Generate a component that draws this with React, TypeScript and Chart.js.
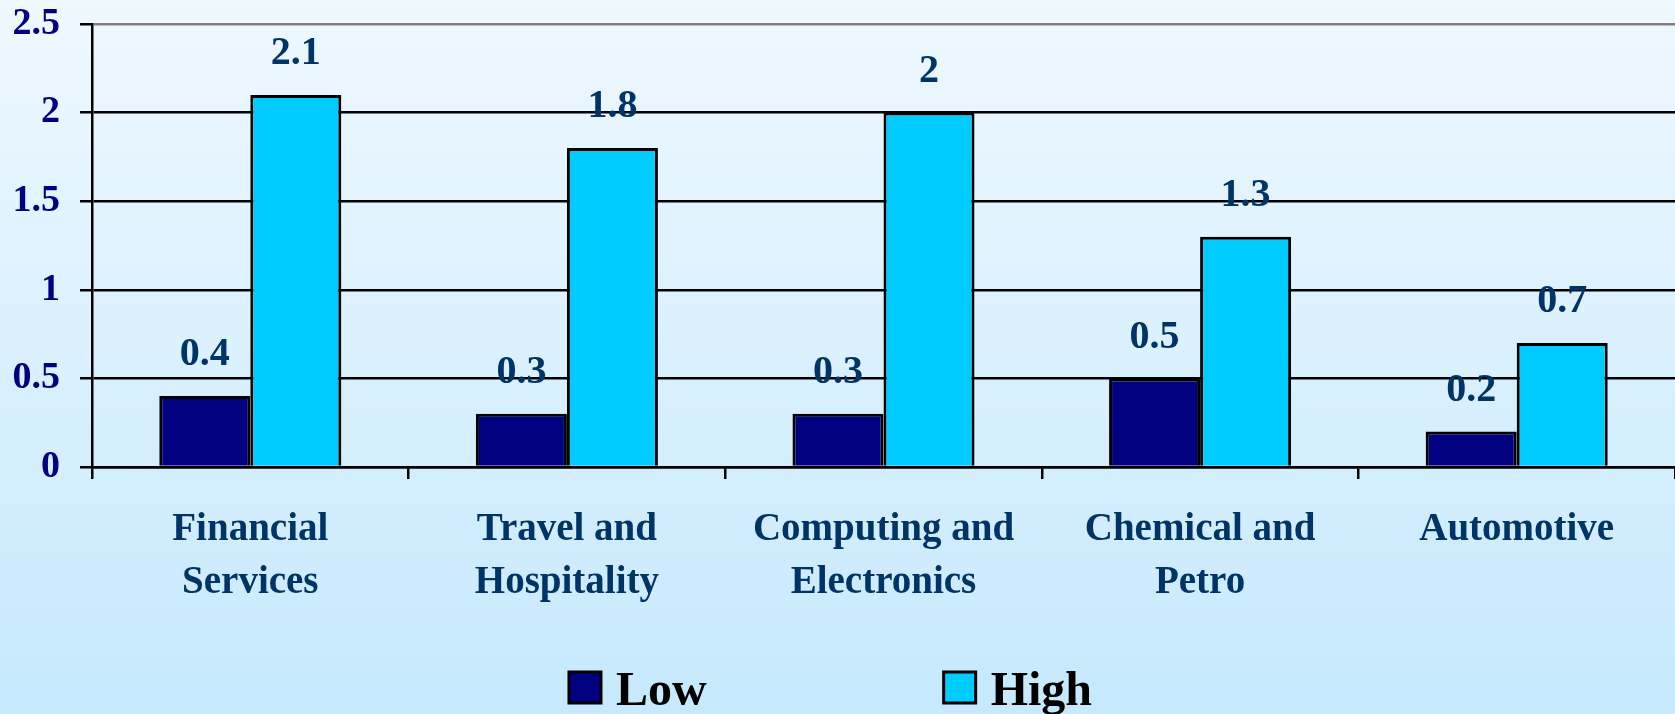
import React, { useEffect, useRef } from 'react';
import { Chart, registerables, Plugin } from 'chart.js';

Chart.register(...registerables);

const categories: string[][] = [
  ['Financial', 'Services'],
  ['Travel and', 'Hospitality'],
  ['Computing and', 'Electronics'],
  ['Chemical and', 'Petro'],
  ['Automotive'],
];
const lowValues = [0.4, 0.3, 0.3, 0.5, 0.2];
const highValues = [2.1, 1.8, 2.0, 1.3, 0.7];
const seriesNames = ['Low', 'High'];

const SERIF = '"Liberation Serif", "Times New Roman", serif';

const background: Plugin<'bar'> = {
  id: 'bgGradient',
  beforeDraw: (chart) => {
    const { ctx, width, height } = chart;
    const g = ctx.createLinearGradient(0, 0, 0, height);
    g.addColorStop(0, '#eef8ff');
    g.addColorStop(1, '#c6e9fd');
    ctx.save();
    ctx.fillStyle = g;
    ctx.fillRect(0, 0, width, height);
    ctx.restore();
  },
};

const valueLabels: Plugin<'bar'> = {
  id: 'valueLabels',
  afterDatasetsDraw: (chart) => {
    const { ctx } = chart;
    ctx.save();
    ctx.font = `bold 40px ${SERIF}`;
    ctx.fillStyle = '#003366';
    ctx.textAlign = 'center';
    ctx.textBaseline = 'middle';
    chart.data.datasets.forEach((ds, i) => {
      const meta = chart.getDatasetMeta(i);
      meta.data.forEach((bar: any, j) => {
        const v = ds.data[j] as number;
        ctx.fillText(String(v), bar.x, bar.y - 41);
      });
    });
    ctx.restore();
  },
};

const bottomLegend: Plugin<'bar'> = {
  id: 'bottomLegend',
  afterDraw: (chart) => {
    const { ctx, width } = chart;
    const box = 32;
    const textGap = 15;
    const itemGap = 237;
    ctx.save();
    ctx.font = `bold 48px ${SERIF}`;
    const items = chart.data.datasets.map((ds) => ({
      label: ds.label as string,
      color: ds.backgroundColor as string,
      w: box + textGap + ctx.measureText(ds.label as string).width,
    }));
    const total = items.reduce((s, it) => s + it.w, 0) + itemGap * (items.length - 1);
    let x = width / 2 - 7 - total / 2;
    items.forEach((it) => {
      ctx.fillStyle = it.color;
      ctx.fillRect(x, 672, box, 31);
      ctx.lineWidth = 3;
      ctx.strokeStyle = '#000';
      ctx.strokeRect(x, 672, box, 31);
      ctx.fillStyle = '#000';
      ctx.textBaseline = 'alphabetic';
      ctx.textAlign = 'left';
      ctx.fillText(it.label, x + box + textGap, 705);
      x += it.w + itemGap;
    });
    ctx.restore();
  },
};

const App = () => {
  const chartRef = useRef<HTMLCanvasElement>(null);

  useEffect(() => {
    document.body.style.margin = '0';
    const ctx = chartRef.current?.getContext('2d');
    if (!ctx) return;

    const myChart = new Chart(ctx, {
      type: 'bar',
      data: {
        labels: categories,
        datasets: [
          {
            label: seriesNames[0],
            data: lowValues,
            backgroundColor: '#000080',
            borderColor: '#000000',
            borderWidth: 3,
            borderSkipped: 'bottom',
            categoryPercentage: 0.575,
            barPercentage: 1,
          },
          {
            label: seriesNames[1],
            data: highValues,
            backgroundColor: '#00ccff',
            borderColor: '#000000',
            borderWidth: 3,
            borderSkipped: 'bottom',
            categoryPercentage: 0.575,
            barPercentage: 1,
          },
        ],
      },
      options: {
        animation: false,
        responsive: true,
        maintainAspectRatio: false,
        layout: { padding: { top: 24, right: 0, left: 0, bottom: 0 } },
        scales: {
          x: {
            grid: {
              display: true,
              drawOnChartArea: false,
              drawTicks: true,
              offset: true,
              tickLength: 12,
              color: '#000',
              lineWidth: 2.5,
            },
            border: { display: true, color: '#000', width: 2.5 },
            ticks: {
              color: '#003366',
              font: { family: SERIF, size: 39, weight: 'bold', lineHeight: 1.35 },
              padding: 25,
              maxRotation: 0,
              autoSkip: false,
            },
            afterFit: (scale: any) => {
              scale.height = 247;
            },
          },
          y: {
            min: 0,
            max: 2.5,
            ticks: {
              stepSize: 0.5,
              color: '#000080',
              font: { family: SERIF, size: 38, weight: 'bold' },
              padding: 20,
              callback: (v: any) => String(Number(v)),
            },
            grid: {
              color: (c: any) => (c.tick && c.tick.value === 2.5 ? '#808080' : '#000'),
              tickColor: '#000',
              tickLength: 12,
              lineWidth: 2.5,
            },
            border: { display: true, color: '#000', width: 2.5 },
            afterFit: (scale: any) => {
              scale.width = 92;
              scale.paddingTop = 0;
              scale.paddingBottom = 0;
            },
          },
        },
        plugins: {
          legend: { display: false },
          tooltip: { enabled: false },
        },
      },
      plugins: [background, valueLabels, bottomLegend],
    });

    return () => {
      myChart.destroy();
    };
  }, []);

  return (
    <div style={{ position: 'relative', width: '1675px', height: '714px' }}>
      <canvas ref={chartRef}></canvas>
    </div>
  );
};

export default App;
